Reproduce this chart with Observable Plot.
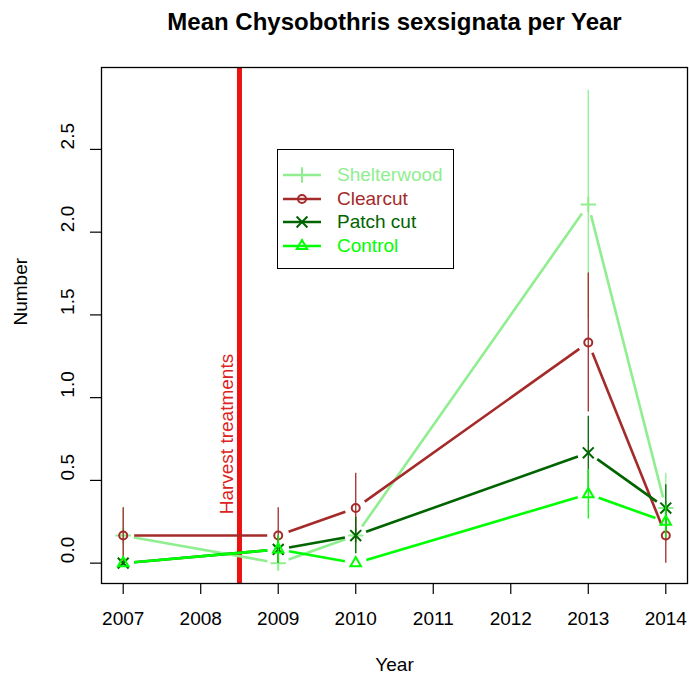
<!DOCTYPE html>
<html>
<head>
<meta charset="utf-8">
<script src="https://cdn.jsdelivr.net/npm/d3@7"></script>
<script src="https://cdn.jsdelivr.net/npm/@observablehq/plot@0.6"></script>
<style>
  html, body { margin: 0; padding: 0; background: #fff; }
  #wrap { position: relative; width: 689px; height: 677px; font-family: "Liberation Sans", Arial, sans-serif; }
  #legend { position: absolute; left: 277px; top: 149px; width: 175px; height: 118px; border: 1px solid #000; background: #fff; }
  .lrow { position: absolute; left: 0; height: 24px; width: 175px; }
  .lrow svg { position: absolute; left: 5px; top: 0; }
  .lrow span { position: absolute; left: 59px; top: 1px; font-size: 19px; line-height: 22px; white-space: nowrap; }
</style>
</head>
<body>
<div id="wrap"></div>
<script>
// ---- data ----
const years = [2007, 2009, 2010, 2013, 2014];
const seriesNames = ["Shelterwood", "Clearcut", "Patch cut", "Control"];
const seriesColors = ["#90EE90", "#A52A2A", "#006400", "#00FF00"];
const seriesSymbols = ["plus", "circle", "times", "triangle2"];
const meanShelterwood = [0.167, 0.0, 0.167, 2.167, 0.333];
const seShelterwood   = [0.167, 0.0, 0.11, 0.69, 0.21];
const meanClearcut    = [0.167, 0.167, 0.333, 1.333, 0.167];
const seClearcut      = [0.167, 0.167, 0.21, 0.42, 0.167];
const meanPatchCut    = [0.0, 0.083, 0.167, 0.667, 0.333];
const sePatchCut      = [0.0, 0.083, 0.11, 0.22, 0.14];
const meanControl     = [0.0, 0.083, 0.0, 0.417, 0.25];
const seControl       = [0.0, 0.083, 0.0, 0.15, 0.1];
const xTicks = [2007, 2008, 2009, 2010, 2011, 2012, 2013, 2014];
const yTicks = [0, 0.5, 1.0, 1.5, 2.0, 2.5];
const harvestYear = 2008.5;
const harvestLabelY = 0.78;
const harvestLabel = "Harvest treatments";
const titleText = "Mean Chysobothris sexsignata per Year";
const xLabel = "Year";
const yLabel = "Number";

// ---- build table ----
const means = [meanShelterwood, meanClearcut, meanPatchCut, meanControl];
const ses = [seShelterwood, seClearcut, sePatchCut, seControl];
const rows = [];
seriesNames.forEach((s, i) => years.forEach((yr, j) => rows.push({series: s, si: i, year: yr, mean: means[i][j], se: ses[i][j]})));

const W = 689, H = 677, mL = 101, mR = 2, mT = 67, mB = 94;
const xDom = [2006.72, 2014.28], yDom = [-0.123, 2.995];
const kx = (W - mL - mR) / (xDom[1] - xDom[0]);
const ky = (H - mT - mB) / (yDom[1] - yDom[0]);
const gap = 11;

// line segments with gaps around points (R type "b")
const segs = [];
seriesNames.forEach((s, i) => {
  for (let j = 0; j < years.length - 1; j++) {
    const x1 = years[j], x2 = years[j + 1], y1 = means[i][j], y2 = means[i][j + 1];
    const px = (x2 - x1) * kx, py = (y2 - y1) * ky;
    const L = Math.hypot(px, py);
    if (L <= 2 * gap) continue;
    const ux = px / L, uy = py / L;
    segs.push({series: s, si: i,
      x1: x1 + gap * ux / kx, y1: y1 + gap * uy / ky,
      x2: x2 - gap * ux / kx, y2: y2 - gap * uy / ky});
  }
});

const marks = [
  Plot.ruleX([harvestYear], {stroke: "#ee1111", strokeWidth: 5}),
  Plot.text([harvestLabel], {x: harvestYear, y: harvestLabelY, text: d => d, rotate: -90, dx: -13, fill: "#dd2222", fontSize: 19}),
];
seriesNames.forEach((s, i) => {
  marks.push(Plot.link(segs.filter(d => d.si === i), {x1: "x1", y1: "y1", x2: "x2", y2: "y2", stroke: seriesColors[i], strokeWidth: 2.6}));
  marks.push(Plot.ruleX(rows.filter(d => d.si === i && d.se > 0), {x: "year", y1: d => d.mean - d.se, y2: d => d.mean + d.se, stroke: seriesColors[i], strokeWidth: 1.3}));
  marks.push(Plot.dot(rows.filter(d => d.si === i), {x: "year", y: "mean", symbol: () => seriesSymbols[i], stroke: seriesColors[i], fill: "none", strokeWidth: 2, r: i === 1 ? 4 : 5}));
});
marks.push(
  Plot.frame({stroke: "#000", strokeWidth: 1.3}),
  Plot.axisX({ticks: xTicks, tickFormat: () => "", tickSize: 11, label: null, strokeWidth: 1.2}),
  Plot.axisY({ticks: yTicks, tickFormat: () => "", tickSize: 11, label: null, strokeWidth: 1.2}),
  Plot.text(xTicks, {x: d => d, text: d => String(d), frameAnchor: "bottom", lineAnchor: "middle", dy: 35, fontSize: 19}),
  Plot.text(yTicks, {y: d => d, text: d => d.toFixed(1), frameAnchor: "left", dx: -33.5, rotate: -90, fontSize: 19}),
  Plot.text([xLabel], {text: d => d, frameAnchor: "bottom", lineAnchor: "middle", dy: 81, fontSize: 19}),
  Plot.text([yLabel], {text: d => d, frameAnchor: "left", dx: -81, rotate: -90, fontSize: 19}),
  Plot.text([titleText], {text: d => d, frameAnchor: "top", lineAnchor: "middle", dy: -45, fontSize: 24, fontWeight: "bold"})
);

const chart = Plot.plot({
  width: W, height: H,
  marginLeft: mL, marginRight: mR, marginTop: mT, marginBottom: mB,
  x: {domain: xDom, axis: null},
  y: {domain: yDom, axis: null},
  symbol: {type: "identity"},
  style: {fontFamily: '"Liberation Sans", Arial, sans-serif', fontSize: "19px", color: "#000", background: "#fff", overflow: "visible"},
  marks
});
const wrap = document.getElementById("wrap");
wrap.appendChild(chart);

// ---- legend ----
const symMap = {plus: d3.symbolPlus, circle: d3.symbolCircle, times: d3.symbolTimes, triangle2: d3.symbolTriangle2};
const legend = d3.select(wrap).append("div").attr("id", "legend");
seriesNames.forEach((s, i) => {
  const row = legend.append("div").attr("class", "lrow").style("top", (13 + i * 23.5) + "px");
  const svg = row.append("svg").attr("width", 38).attr("height", 24);
  svg.append("line").attr("x1", 0).attr("x2", 38).attr("y1", 12).attr("y2", 12).attr("stroke", seriesColors[i]).attr("stroke-width", 2.6);
  const r = i === 1 ? 4 : 5;
  svg.append("path").attr("transform", "translate(19,12)").attr("d", d3.symbol(symMap[seriesSymbols[i]], Math.PI * r * r)()).attr("fill", "none").attr("stroke", seriesColors[i]).attr("stroke-width", 2);
  row.append("span").style("color", seriesColors[i]).text(s);
});
</script>
</body>
</html>
